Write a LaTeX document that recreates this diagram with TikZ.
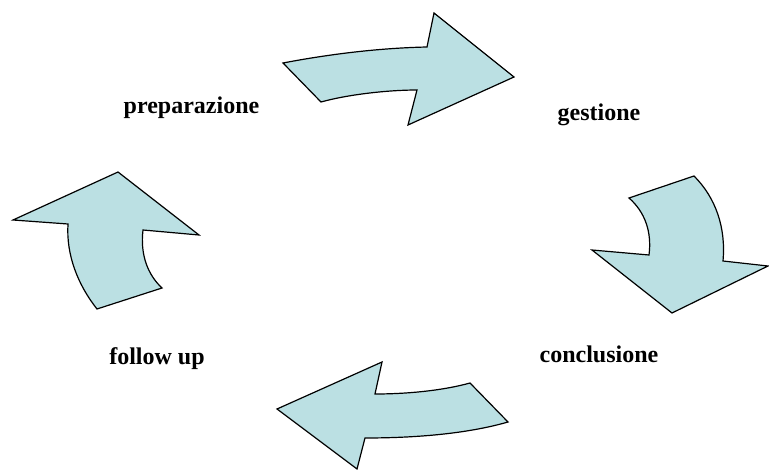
\documentclass[tikz,border=0pt]{standalone}
\usepackage{fontspec}
\setmainfont{Liberation Serif}
\usepackage{xcolor}
\usepackage{tikz}
\definecolor{arrowfill}{RGB}{187,224,227}

\begin{document}
\begin{tikzpicture}[x = 1pt, y = -1pt,
        blockarrow/.style = {draw = black, fill = arrowfill, line width = 1.2pt, line join = miter},
        phase/.style = {anchor = base, inner sep = 0pt, font = \fontsize{24}{29}\selectfont\bfseries}]
        \useasboundingbox (0, 0) rectangle (769, 470);

        % top: preparazione -> gestione
        \filldraw[blockarrow] (283, 63) .. controls (330, 54) and (380, 48) .. (427, 47)
            -- (434, 13) -- (514, 77) -- (408, 125) -- (417, 90)
            .. controls (390, 90) and (350, 94) .. (321, 102) -- cycle;
        % right: gestione -> conclusione
        \filldraw[blockarrow] (629, 198) -- (694, 176)
            .. controls (716, 198) and (726, 228) .. (723, 261)
            -- (768, 266) -- (672, 313) -- (592, 250) -- (649, 255)
            .. controls (652, 232) and (645, 212) .. (629, 198) -- cycle;
        % bottom: conclusione -> follow up
        \filldraw[blockarrow] (277, 409) -- (382, 362) -- (375, 394)
            .. controls (410, 394) and (445, 390) .. (470, 383)
            -- (508, 422) .. controls (470, 433) and (420, 438) .. (365, 438)
            -- (357, 469) -- cycle;
        % left: follow up -> preparazione
        \filldraw[blockarrow] (13, 220) -- (118, 172) -- (199, 235) -- (143, 230)
            .. controls (140, 255) and (148, 275) .. (162, 288)
            -- (97, 309) .. controls (78, 285) and (66, 255) .. (68, 224) -- cycle;

        \node[phase] (prep) at (191.5, 114) {preparazione};
        \node[phase] (gest) at (599, 121) {gestione};
        \node[phase] (concl) at (599, 363) {conclusione};
        \node[phase] (follow) at (157, 365) {follow up};
    \end{tikzpicture}
\end{document}
